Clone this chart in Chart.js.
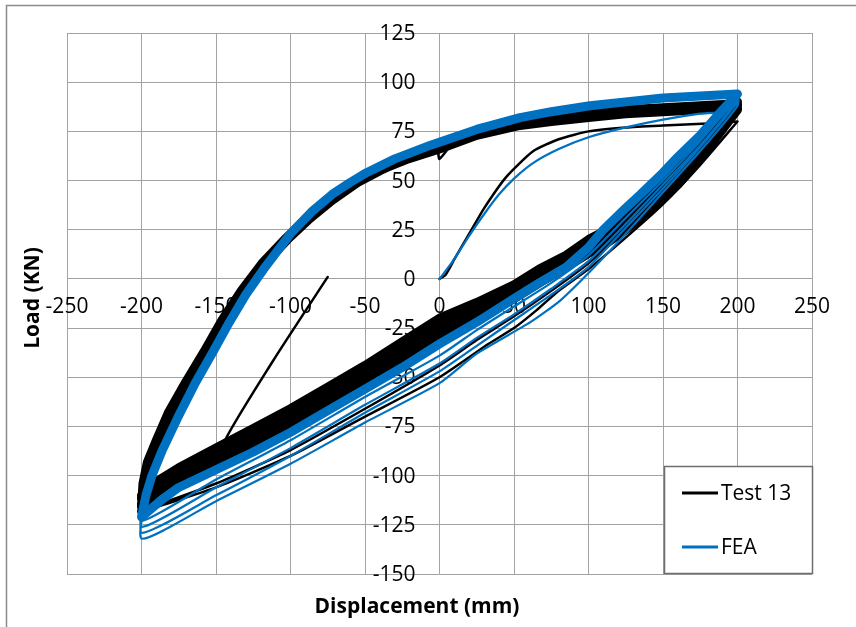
<!DOCTYPE html>
<html>
<head>
<meta charset="utf-8">
<script src="https://cdn.jsdelivr.net/npm/chart.js@4.4.1/dist/chart.umd.min.js"></script>
<style>
    html, body { margin: 0; padding: 0; background: #fff; }
</style>
</head>
<body>
<canvas id="hysteresisChart" width="856" height="627"></canvas>
<script>
// axis ranges / steps
const xRange = [-250, 250];
const xStep = 50;
const yRange = [-150, 125];
const yStep = 25;

const seriesNames = ['Test 13', 'FEA'];
const seriesColors = ['#000000', '#0070C0'];

// Test 13 - [displacement mm, load kN]
const testInitial = [[0,0],[4,2],[10,10],[20,23],[30,36],[45,52],[63,65],[80,71],[100,75],[125,77],[150,78],[180,79],[200,80]];
const testFirstUnload = [[200,80],[175,58],[150,38],[125,21],[100,5],[80,-6],[65,-16],[50,-25],[33,-33],[0,-50],[-50,-70],[-100,-90],[-150,-106],[-186,-115],[-200,-119]];
const testUpperSpike = [[-200,-119],[-198,-104],[-194,-93],[-189,-82],[-181,-68],[-169,-52],[-158,-37],[-145,-21],[-132,-6],[-118,8],[-103,20],[-89,30],[-72,40],[-55,49],[-40,55],[-20,62],[-2,67],[0,61],[12,72],[27,78],[54,80],[75,81],[100,83],[125,85],[150,86],[175,86],[200,84]];
const testSecondUnload = [[200,84],[175,62],[150,43],[125,25],[100,8],[75,-6],[50,-19],[25,-31],[0,-44],[-50,-66],[-100,-87],[-150,-104],[-200,-117]];
const testUpperB = [[-200,-112],[-198,-102],[-194,-92],[-188,-81],[-179,-67],[-167,-52],[-156,-37],[-144,-21],[-131,-6],[-117,8],[-102,20],[-88,30],[-72,40],[-55,49],[-40,55],[-20,62],[0,68],[25,74],[54,79],[75,82],[100,84],[125,86],[150,87],[175,88],[200,89]];
const testUpperC = [[-200,-116],[-199,-104],[-196,-93],[-190,-82],[-182,-68],[-170,-52],[-158,-37],[-146,-21],[-133,-6],[-119,8],[-104,20],[-90,30],[-73,40],[-56,49],[-41,55],[-21,61],[0,66],[25,73],[54,78],[75,80],[100,82],[125,84],[150,85],[175,86],[200,87]];
const testBandTop = [[200,90],[190,82],[175,68],[160,56],[150,48],[135,38],[125,32],[110,24],[100,20],[85,12],[67,5],[50,-3],[25,-12],[0,-20],[-25,-32],[-50,-44],[-75,-55],[-100,-66],[-125,-76],[-150,-86],[-175,-96],[-190,-103],[-200,-110]];
const testBandMid = [[200,88],[190,78],[175,64],[160,51],[150,44],[135,34],[125,28],[110,20],[100,16],[85,9],[67,1],[50,-7],[25,-16],[0,-24],[-25,-36],[-50,-48],[-75,-59],[-100,-70],[-125,-80],[-150,-90],[-175,-100],[-190,-107],[-200,-114]];
const testBandLow = [[200,86],[190,76],[175,61],[160,48],[150,41],[135,31],[125,25],[110,17],[100,13],[85,6],[67,-2],[50,-10],[25,-20],[0,-28],[-25,-40],[-50,-52],[-75,-63],[-100,-74],[-125,-84],[-150,-94],[-175,-104],[-190,-110],[-200,-118]];
const testLastReload = [[-145,-84],[-112,-42],[-75,1]];

// FEA - [displacement mm, load kN]
const feaInitial = [[0,0],[8,8],[20,22],[30,33],[40,43],[50,51],[63,59],[80,66],[100,72],[125,77],[150,81],[175,84],[190,85],[200,90]];
const feaUpper = [[-200,-121],[-197,-110],[-193,-100],[-186,-87],[-176,-71],[-164,-53],[-152,-37],[-141,-22],[-130,-8],[-118,5],[-100,23],[-86,34],[-72,43],[-60,49],[-49,54],[-30,61],[-6,68],[25,76],[54,82],[75,85],[101,88],[125,90],[150,92],[175,93],[200,94]];
const feaBand = [[200,94],[190,86],[175,73],[160,62],[150,54],[135,43],[125,36],[110,25],[100,16],[85,6],[67,-2],[50,-10],[25,-22],[0,-33],[-25,-45],[-50,-56],[-75,-67],[-100,-78],[-125,-88],[-150,-97],[-175,-106],[-186,-112],[-200,-121]];
const feaUnload1 = [[200,92],[175,70],[150,50],[125,31],[100,12],[75,-2],[50,-14],[25,-26],[0,-39],[-50,-60],[-100,-82],[-150,-102],[-200,-123]];
const feaUnload2 = [[200,91],[175,68],[150,48],[125,28],[100,9],[75,-5],[50,-18],[25,-30],[0,-43],[-50,-64],[-100,-86],[-150,-106],[-200,-126]];
const feaUnload3 = [[200,90],[175,67],[150,46],[125,26],[100,6],[75,-8],[50,-21],[25,-34],[0,-47],[-50,-68],[-100,-90],[-150,-110],[-200,-129]];
const feaUnload4 = [[200,88],[175,65],[150,44],[125,23],[100,3],[81,-11],[61,-22],[25,-38],[0,-53],[-50,-73],[-100,-94],[-150,-113],[-200,-132]];

function toPoints(parts) {
    var pts = [];
    parts.forEach(function (part) {
        part.forEach(function (p) { pts.push({x: p[0], y: p[1]}); });
    });
    return pts;
}

const fontFamily = '"Open Sans", "Noto Sans", sans-serif';

const lineDefaults = {
    showLine: true,
    pointRadius: 0,
    tension: 0,
    fill: false,
    borderJoinStyle: 'round',
    borderCapStyle: 'round'
};

const datasets = [
    Object.assign({}, lineDefaults, {
        label: seriesNames[1],
        data: toPoints([feaUpper, feaBand]),
        borderColor: seriesColors[1],
        borderWidth: 9,
        order: 0
    }),
    Object.assign({}, lineDefaults, {
        label: seriesNames[1],
        data: toPoints([feaInitial, feaUnload1, feaUpper.slice(2), feaUnload2, feaUpper.slice(2), feaUnload3, feaUpper.slice(2), feaUnload4, feaUpper.slice(2)]),
        borderColor: seriesColors[1],
        borderWidth: 2.2,
        tension: 0.2,
        order: 1
    }),
    Object.assign({}, lineDefaults, {
        label: seriesNames[0],
        data: toPoints([testInitial, testFirstUnload, testUpperSpike, testSecondUnload, testUpperB, testBandTop.slice(0, 19), testLastReload]),
        borderColor: seriesColors[0],
        borderWidth: 2.5,
        tension: 0.2,
        order: 2
    }),
    Object.assign({}, lineDefaults, {
        label: seriesNames[0],
        data: toPoints([testBandTop, testUpperB, testBandMid, testUpperC, testBandLow]),
        borderColor: seriesColors[0],
        borderWidth: 9,
        order: 3
    })
];

const chartDecor = {
    id: 'chartDecor',
    beforeDraw: function (chart) {
        var ctx = chart.ctx;
        ctx.save();
        ctx.fillStyle = '#ffffff';
        ctx.fillRect(0, 0, chart.width, chart.height);
        ctx.strokeStyle = '#8a8a8a';
        ctx.lineWidth = 1.5;
        ctx.strokeRect(6.5, 5.5, 1000, 1000);
        ctx.restore();
    },
    beforeDatasetsDraw: function (chart) {
        var ctx = chart.ctx;
        var xs = chart.scales.x, ys = chart.scales.y;
        var x0 = xs.getPixelForValue(0), y0 = ys.getPixelForValue(0);
        ctx.save();
        ctx.fillStyle = '#000';
        ctx.font = '21px ' + fontFamily;
        ctx.textAlign = 'right';
        ctx.textBaseline = 'middle';
        ys.ticks.forEach(function (t) {
            ctx.fillText(String(t.value), x0 - 24, ys.getPixelForValue(t.value) + 1);
        });
        ctx.textAlign = 'center';
        xs.ticks.forEach(function (t) {
            ctx.fillText(String(t.value), xs.getPixelForValue(t.value), y0 + 28);
        });

        // axis titles
        ctx.font = 'bold 21px ' + fontFamily;
        ctx.fillText('Displacement (mm)', 417, 607);
        ctx.translate(33, 298);
        ctx.rotate(-Math.PI / 2);
        ctx.fillText('Load (KN)', 0, 0);
        ctx.restore();
    },
    afterDraw: function (chart) {
        var ctx = chart.ctx;
        var area = chart.chartArea;
        var box = {left: 664, top: 466, right: area.right + 1, bottom: area.bottom};
        ctx.save();
        ctx.fillStyle = '#ffffff';
        ctx.fillRect(box.left, box.top, box.right - box.left, box.bottom - box.top);
        ctx.strokeStyle = '#6e6e6e';
        ctx.lineWidth = 1.5;
        ctx.strokeRect(box.left + 0.5, box.top + 0.5, box.right - box.left - 1, box.bottom - box.top - 1);

        var rows = [493, 547];
        ctx.font = '21px ' + fontFamily;
        ctx.textAlign = 'left';
        ctx.textBaseline = 'middle';
        seriesNames.forEach(function (name, i) {
            ctx.strokeStyle = seriesColors[i];
            ctx.lineWidth = 3;
            ctx.beginPath();
            ctx.moveTo(682, rows[i]);
            ctx.lineTo(718, rows[i]);
            ctx.stroke();
            ctx.fillStyle = '#000';
            ctx.fillText(name, 721, rows[i] + 1);
        });
        ctx.restore();
    }
};

new Chart(document.getElementById('hysteresisChart'), {
    type: 'scatter',
    data: { datasets: datasets },
    options: {
        responsive: false,
        animation: false,
        layout: { padding: { left: 67, right: 44, top: 33, bottom: 53 } },
        plugins: {
            legend: { display: false },
            tooltip: { enabled: false }
        },
        scales: {
            x: {
                type: 'linear',
                min: xRange[0],
                max: xRange[1],
                ticks: { stepSize: xStep, display: false },
                grid: { color: '#a3a3a3', lineWidth: 1, drawTicks: false },
                border: { display: false }
            },
            y: {
                type: 'linear',
                min: yRange[0],
                max: yRange[1],
                ticks: { stepSize: yStep, display: false },
                grid: { color: '#a3a3a3', lineWidth: 1, drawTicks: false },
                border: { display: false }
            }
        }
    },
    plugins: [chartDecor]
});
</script>
</body>
</html>
